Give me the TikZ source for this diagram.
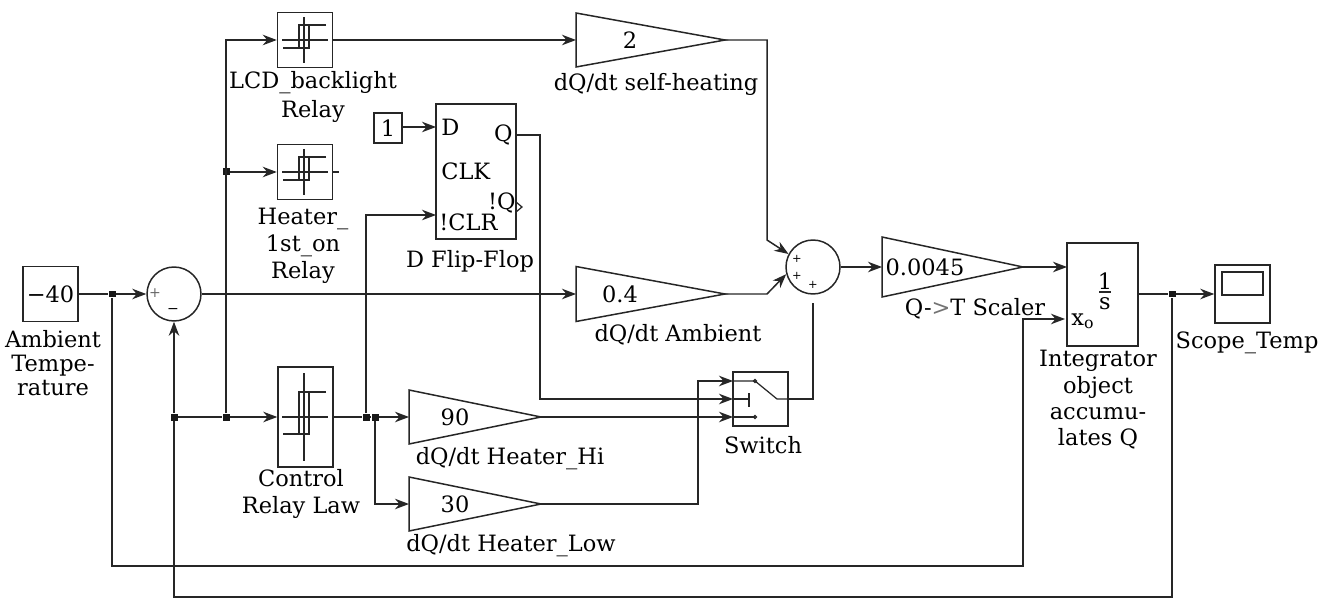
\documentclass[tikz,border=0pt]{standalone}
\usepackage{fontspec}
\setmainfont{DejaVu Serif}
\usetikzlibrary{arrows.meta}
\newcommand{\relayicon}[5]{
	\draw[icon] (#1-23,#2) -- (#1+23,#2);
	\draw[icon] (#1-1,#2-#3) -- (#1-1,#2+#3);
	\draw[icon] (#1+21,#2-#4) -- (#1-6,#2-#4) -- (#1-6,#2+#5) -- (#1-22,#2+#5);
	\draw[icon] (#1+4,#2-#4) -- (#1+4,#2+#5) -- (#1-6,#2+#5);
}
\tikzset{
	block/.style={draw=black!85,line width=0.85pt,inner sep=0pt},
	conn/.style={draw=black!85,line width=0.85pt},
	arr/.style={conn,-{Stealth[length=8pt,width=6pt]}},
	icon/.style={draw=black!85,line width=0.7pt},
	junc/.style={fill=black!90,inner sep=0pt,minimum size=0.14cm},
	lbl/.style={align=center,inner sep=0pt,font=\fontsize{12.8}{15}\selectfont},
	sgn/.style={inner sep=0pt,font=\fontsize{6.5}{8}\selectfont},
}
\begin{document}
\begin{tikzpicture}[x=0.02cm,y=-0.02cm]
	\useasboundingbox (0,0) rectangle (1332,601);
	% source and first sum
	\node[block,minimum width=1.1cm,minimum height=1.1cm,lbl] (ambient) at (50.5,294) {−40};
	\node[lbl] (ambientlbl) at (53,363) {Ambient\\[-1.5pt]Tempe-\\[-1.5pt]rature};
	\node[block,circle,minimum size=1.08cm] (sumone) at (174,294) {};
	\node[sgn,text=black!60,font=\fontsize{8}{8}\selectfont] (sumoneplus) at (155,293) {+};
	\node[sgn,font=\fontsize{8}{8}\selectfont] (sumoneminus) at (173,311) {−};
	% relays
	\node[block,minimum width=1.1cm,minimum height=1.1cm] (lcd) at (305,40) {};
	\node[block,minimum width=1.1cm,minimum height=1.1cm] (heater) at (305,172) {};
	\node[block,minimum width=1.1cm,minimum height=2cm] (ctrl) at (305.5,417) {};
	\relayicon{305}{40}{23}{15}{8}
	\relayicon{305}{172}{23}{15}{8}
	\relayicon{305}{417}{44}{25}{17}
	\node[lbl] (lcdlbl) at (313,97) {LCD\_backlight\\[1pt]Relay};
	\node[lbl] (heaterlbl) at (303,246) {Heater\_\\[0.5pt]1st\_on\\[0.5pt]Relay};
	\node[lbl] (ctrllbl) at (301,494) {Control\\Relay Law};
	% flip-flop
	\node[block,minimum width=0.56cm,minimum height=0.6cm,lbl] (constone) at (388,128) {1};
	\node[block,minimum width=1.6cm,minimum height=2.7cm] (ff) at (476,171.5) {};
	\node[lbl,anchor=west] (ffd) at (441,127) {D};
	\node[lbl,anchor=west] (ffclk) at (441,171) {CLK};
	\node[lbl,anchor=west] (ffclr) at (439,222) {!CLR};
	\node[lbl,anchor=east] (ffq) at (513,135) {Q};
	\node[lbl,anchor=east] (ffnq) at (516,203) {!Q};
	\draw[icon] (516,202) -- (522,207) -- (516,212);
	\node[lbl] (fflbl) at (470,261) {D Flip-Flop};
	\coordinate (ffqout) at (516,135);
	\coordinate (ffclrin) at (436,215);
	\coordinate (ffdin) at (436,127);
	% gains
	\foreach \name/\xa/\xb/\ym/\h/\tx/\val in {gaintwo/576/725/40/27/630/2,gainamb/576/725/294/27.5/620/0.4,
		gainhi/409/541/417/27/455/90,gainlow/409/541/504/27/455/30,gainscale/882/1023/267/30/925/0.0045}{
		\coordinate (\name in) at (\xa,\ym);
		\coordinate (\name out) at (\xb,\ym);
		\draw[block] (\xa,\ym-\h) -- (\xb,\ym) -- (\xa,\ym+\h) -- cycle;
		\node[lbl] (\name val) at (\tx,\ym) {\val};
	}
	\node[lbl] (gaintwolbl) at (656,84) {dQ/dt self-heating};
	\node[lbl] (gainamblbl) at (678,335) {dQ/dt Ambient};
	\node[lbl] (gainhilbl) at (510,459) {dQ/dt Heater\_Hi};
	\node[lbl] (gainlowlbl) at (511,546) {dQ/dt Heater\_Low};
	\node[lbl] (gainscalelbl) at (975,309) {Q-\textcolor{black!55}{>}T Scaler};
	% second sum
	\node[block,circle,minimum size=1.08cm] (sumtwo) at (813,267) {};
	\node[sgn] (plusa) at (797,259) {+};
	\node[sgn] (plusb) at (797,276) {+};
	\node[sgn] (plusc) at (813,285) {+};
	% switch
	\node[block,minimum width=1.1cm,minimum height=1.08cm] (switch) at (760.5,399) {};
	\node[lbl] (switchlbl) at (763,445) {Switch};
	\coordinate (swa) at (733,381);
	\coordinate (swb) at (733,399);
	\coordinate (swc) at (733,417);
	\draw[icon] (swa) -- (755,381) -- (777,399) -- (788,399);
	\draw[icon] (swb) -- (749,399) (749,393) -- (749,407);
	\draw[icon] (swc) -- (755,417);
	\draw[icon] (755,381) circle (1.5);
	\draw[icon] (755,417) circle (1.5);
	% integrator and scope
	\node[block,minimum width=1.42cm,minimum height=2.06cm] (integ) at (1102.5,294.5) {};
	\node[lbl] (integone) at (1105,281) {1};
	\node[lbl] (integs) at (1105,304) {s};
	\draw[conn] (1099,292) -- (1111,292);
	\node[lbl,anchor=west] (integxo) at (1071,321) {x\textsubscript{o}};
	\node[lbl] (integlbl) at (1098,400) {Integrator\\object\\accumu-\\lates Q};
	\coordinate (intega) at (1067,267);
	\coordinate (integb) at (1065,319);
	\coordinate (integc) at (1138,294);
	\node[block,minimum width=1.1cm,minimum height=1.16cm] (scope) at (1242.5,294) {};
	\node[block,minimum width=0.82cm,minimum height=0.46cm] (scopescr) at (1242.5,283.5) {};
	\node[lbl] (scopelbl) at (1247,343) {Scope\_Temp};
	% junctions
	\node[junc] (ja) at (112,294) {};
	\node[junc] (jb) at (174,417) {};
	\node[junc] (jc) at (226,417) {};
	\node[junc] (jd) at (226,172) {};
	\node[junc] (je) at (366,417) {};
	\node[junc] (jf) at (375,417) {};
	\node[junc] (jg) at (1172,294) {};
	\coordinate (botone) at (1023,566);
	\coordinate (bottwo) at (1172,597);
	\coordinate (heaterstub) at (340,172);
	% connectors
	\draw[conn] (ambient.east) -- (ja);
	\draw[arr] (ja) -- (sumone.west);
	\draw[arr] (sumone.east) -- (gainambin);
	\draw[arr] (jb) -- (sumone.south);
	\draw[conn] (jb) -- (jc);
	\draw[arr] (jc) -- (ctrl.west |- jc);
	\draw[arr] (jc) |- (lcd.west);
	\draw[arr] (jd) -- (heater.west);
	\draw[conn] (ctrl.east |- je) -- (je);
	\draw[conn] (je) -- (jf);
	\draw[arr] (jf) -- (gainhiin);
	\draw[arr] (jf) |- (gainlowin);
	\draw[arr] (je) |- (ffclrin);
	\draw[arr] (constone.east |- ffdin) -- (ffdin);
	\draw[arr] (lcd.east) -- (gaintwoin);
	\draw[densely dashed,icon] (heater.east) -- (heaterstub);
	\draw[arr] (gaintwoout) -| (767,240) -- (sumtwo.152);
	\draw[arr] (gainambout) -- (767,294) -- (sumtwo.195);
	\draw[arr] (ffqout) -| (540,399) -- (swb);
	\draw[arr] (gainhiout) -- (swc);
	\draw[arr] (gainlowout) -| (698,381) -- (swa);
	\draw[conn] (switch.east) -| (813,303);
	\draw[arr] (sumtwo.east) -- (gainscalein);
	\draw[arr] (gainscaleout) -- (intega);
	\draw[conn] (integc) -- (jg);
	\draw[arr] (jg) -- (scope.west);
	\draw[arr] (ja) |- (botone) |- (integb);
	\draw[conn] (jb) |- (bottwo) -- (jg);
\end{tikzpicture}
\end{document}
